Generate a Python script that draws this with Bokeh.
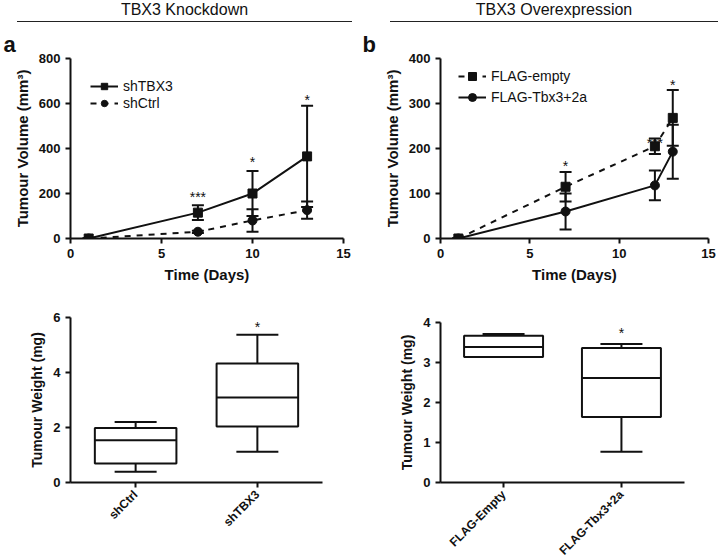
from bokeh.plotting import figure
from bokeh.models import (Range1d, FactorRange, Whisker, TeeHead, ColumnDataSource,
                          Legend, LegendItem, Div)
from bokeh.layouts import column, row
from bokeh.transform import dodge
from bokeh.embed import file_html
from bokeh.resources import INLINE
from bokeh.core.properties import value
import math

FONT = "Liberation Sans"

# ---------------- Data ----------------
# Panel a (TBX3 knockdown) tumour volume
days_a = [1, 7, 10, 13]
shTBX3_mean = [0, 115, 200, 365]
shTBX3_sd = [0, 33, 100, 225]
shCtrl_mean = [0, 30, 80, 126]
shCtrl_sd = [0, 5, 50, 38]
stars_a_x = [7, 10, 13]
stars_a_y = [200, 355, 630]
stars_a_text = ["***", "*", "*"]

# Panel b (TBX3 overexpression) tumour volume
days_b = [1, 7, 12, 13]
empty_mean = [0, 115, 205, 268]
empty_sd = [0, 33, 17, 62]
tbx3_mean = [0, 60, 118, 193]
tbx3_sd = [0, 40, 33, 60]
stars_b_x = [7, 12, 13]
stars_b_y = [167, 220, 348]
stars_b_text = ["*", "***", "*"]

# Tumour weight box plots
cats_a = ["shCtrl", "shTBX3"]
low_a = [0.39, 1.12]
q1_a = [0.69, 2.04]
med_a = [1.54, 3.09]
q3_a = [1.98, 4.33]
high_a = [2.20, 5.37]
star_box_a_cat = ["shTBX3"]
star_box_a_y = [5.76]

cats_b = ["FLAG-Empty", "FLAG-Tbx3+2a"]
low_b = [3.14, 0.77]
q1_b = [3.14, 1.64]
med_b = [3.39, 2.61]
q3_b = [3.67, 3.36]
high_b = [3.71, 3.46]
star_box_b_cat = ["FLAG-Tbx3+2a"]
star_box_b_y = [3.81]

INK = "#111111"


def style(p, xlabel, ylabel, yticks, xticks=None, label_size="15px"):
    p.outline_line_color = None
    p.xgrid.visible = False
    p.ygrid.visible = False
    p.background_fill_color = "white"
    p.border_fill_color = "white"
    for ax in (p.xaxis[0], p.yaxis[0]):
        ax.axis_line_width = 2
        ax.axis_line_color = INK
        ax.major_tick_line_width = 2
        ax.major_tick_line_color = INK
        ax.major_tick_out = 5
        ax.major_tick_in = 0
        ax.minor_tick_line_color = None
        ax.major_label_text_font = FONT
        ax.major_label_text_font_style = "bold"
        ax.major_label_text_font_size = "13px"
        ax.major_label_text_color = INK
        ax.axis_label_text_font = FONT
        ax.axis_label_text_font_style = "bold"
        ax.axis_label_text_font_size = label_size
        ax.axis_label_text_color = INK
    p.xaxis.axis_label = xlabel
    p.yaxis.axis_label = ylabel
    p.yaxis.ticker = yticks
    if xticks is not None:
        p.xaxis.ticker = xticks
    p.title.text_font = FONT
    p.title.text_font_size = "22px"
    p.title.text_font_style = "bold"
    p.title.text_color = INK


def growth(days, m1, s1, m2, s2, dash1, dash2, mk1, mk2, lab1, lab2,
           ymax, yticks, title, borders, frame, leg_loc, leg_h,
           sx, sy, stext, title_off):
    p = figure(frame_width=frame[0], frame_height=frame[1],
               x_range=Range1d(0, 15), y_range=Range1d(0, ymax),
               output_backend="svg", toolbar_location=None, title=title,
               min_border_left=borders[0], min_border_right=borders[1],
               min_border_top=borders[2], min_border_bottom=borders[3])
    style(p, "Time (Days)", "Tumour Volume (mm³)", yticks, [0, 5, 10, 15])
    p.title.offset = title_off
    p.title.standoff = 3
    items = []
    for m, s, dash, mk, lab in ((m1, s1, dash1, mk1, lab1), (m2, s2, dash2, mk2, lab2)):
        src = ColumnDataSource(dict(x=days, y=m,
                                    lo=[a - b for a, b in zip(m, s)],
                                    hi=[a + b for a, b in zip(m, s)]))
        w = Whisker(source=src, base="x", upper="hi", lower="lo", line_width=2, line_color=INK,
                    upper_head=TeeHead(size=12, line_width=2, line_color=INK),
                    lower_head=TeeHead(size=12, line_width=2, line_color=INK))
        p.add_layout(w)
        lr = p.line("x", "y", source=src, line_width=2, line_color=INK, line_dash=dash)
        sr = p.scatter("x", "y", source=src, marker=mk, size=9, fill_color=INK,
                       line_color=INK)
        items.append(LegendItem(label=lab, renderers=[lr, sr]))
    leg = Legend(items=items, location=leg_loc, border_line_color=None,
                 background_fill_alpha=0, padding=0, margin=0, spacing=1,
                 glyph_width=28, glyph_height=leg_h, label_height=leg_h,
                 label_standoff=5, label_text_font=FONT, label_text_font_size="14px",
                 label_text_color=INK)
    p.add_layout(leg)
    p.text(x=sx, y=sy, text=stext, text_font=value(FONT), text_font_size="14px",
           text_align="center", text_baseline="middle", y_offset=3, text_color=INK)
    return p


def boxplot(cats, low, q1, med, q3, high, scat, sy, yticks, ymax, borders, frame):
    p = figure(frame_width=frame[0], frame_height=frame[1],
               x_range=FactorRange(*cats, range_padding=0.035, range_padding_units="absolute"),
               y_range=Range1d(0, ymax), output_backend="svg", toolbar_location=None,
               min_border_left=borders[0], min_border_right=borders[1],
               min_border_top=borders[2], min_border_bottom=borders[3])
    style(p, "", "Tumour Weight (mg)", yticks, label_size="14px")
    p.xaxis.major_label_text_font_size = "12px"
    p.xaxis.major_label_orientation = math.pi / 4
    src = ColumnDataSource(dict(c=cats, low=low, q1=q1, med=med, q3=q3, high=high))
    p.add_layout(Whisker(source=src, base="c", upper="high", lower="q3", line_width=2,
                         line_color=INK,
                         upper_head=TeeHead(size=42, line_width=2, line_color=INK),
                         lower_head=None))
    p.add_layout(Whisker(source=src, base="c", upper="q1", lower="low", line_width=2,
                         line_color=INK, upper_head=None,
                         lower_head=TeeHead(size=42, line_width=2, line_color=INK)))
    p.vbar(x="c", top="q3", bottom="q1", width=0.67, source=src, fill_color="white",
           line_color=INK, line_width=2)
    p.segment(x0=dodge("c", -0.335, range=p.x_range), y0="med",
              x1=dodge("c", 0.335, range=p.x_range), y1="med", source=src,
              line_color=INK, line_width=2)
    p.text(x=scat, y=sy, text=["*"] * len(scat), text_font=value(FONT), text_font_size="14px",
           text_align="center", text_baseline="middle", y_offset=3, text_color=INK)
    return p


def header(txt, w, ml, lw):
    return Div(text=(f'<div style="margin-left:{ml}px;width:{lw}px;text-align:center;'
                     f'border-bottom:1.5px solid #222;font-family:\'{FONT}\';font-size:16px;'
                     f'line-height:18px;padding-top:1px;padding-bottom:2px;color:#111">{txt}</div>'),
               width=w, height=24, margin=0)


hA = header("TBX3 Knockdown", 360, 17, 335)
hB = header("TBX3 Overexpression", 363, 30, 328)

# borders: left, right, top, bottom ; frame: width, height
pA = growth(days_a, shTBX3_mean, shTBX3_sd, shCtrl_mean, shCtrl_sd, "solid", "dashed",
            "square", "circle", "shTBX3", "shCtrl", 800, [0, 200, 400, 600, 800], "a",
            (70, 17, 34, 62), (273, 180), (20, 127), 16, stars_a_x, stars_a_y, stars_a_text, -67)
pB = growth(days_b, empty_mean, empty_sd, tbx3_mean, tbx3_sd, "dashed", "solid",
            "square", "circle", "FLAG-empty", "FLAG-Tbx3+2a", 400, [0, 100, 200, 300, 400], "b",
            (80, 15, 34, 62), (268, 180), (18, 131), 20, stars_b_x, stars_b_y, stars_b_text, -78)

bA = boxplot(cats_a, low_a, q1_a, med_a, q3_a, high_a, star_box_a_cat, star_box_a_y,
             [0, 2, 4, 6], 6, (68, 40, 17, 74), (252, 165))
bB = boxplot(cats_b, low_b, q1_b, med_b, q3_b, high_b, star_box_b_cat, star_box_b_y,
             [0, 1, 2, 3, 4], 4, (78, 41, 22, 74), (244, 160))

layout = row(column(hA, pA, bA), column(hB, pB, bB))

open("out.html", "w").write(file_html(layout, INLINE))
